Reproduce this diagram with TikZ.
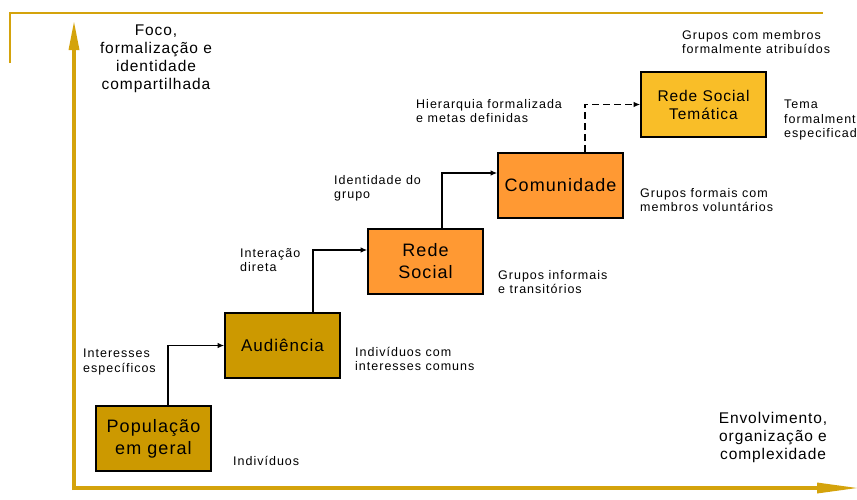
\documentclass[tikz,border=0pt]{standalone}
\usepackage{fontspec}
\setmainfont{Liberation Sans}[LetterSpace=6]
\usetikzlibrary{arrows.meta}
\definecolor{axisgold}{HTML}{D4A30C}
\definecolor{darkgold}{HTML}{CC9900}
\definecolor{orangebox}{HTML}{FF9933}
\definecolor{yellowbox}{HTML}{F9BE28}
\begin{document}
\begin{tikzpicture}[x=1pt,y=-1pt,
  box/.style={draw=black, line width=1.6pt, minimum width=115pt, minimum height=65pt,
    inner sep=0pt, align=center, font=\fontsize{18}{22}\selectfont},
  small/.style={anchor=north west, align=left, inner sep=0pt,
    font=\fontsize{12.5}{14.2}\selectfont\addfontfeatures{LetterSpace=8}},
  axislabel/.style={anchor=north, align=center, inner sep=0pt, font=\fontsize{15.5}{18}\selectfont},
  conn/.style={line width=1.2pt, -{Latex[length=6.5pt,width=5.5pt]}},
  axis/.style={draw=axisgold, line width=4.5pt},
  frame/.style={draw=axisgold, line width=1.5pt}]
\useasboundingbox (0,0) rectangle (857,499);
\clip (0,0) rectangle (857,499);

% frame
\draw[frame] (10,63) -- (10,13) -- (823,13);

% axes
\draw[axis] (74,490) -- (74,48);
\fill[axisgold] (68.5,50) -- (74,22) -- (79.5,50) -- cycle;
\draw[axis] (72,488) -- (819,488);
\fill[axisgold] (817,482.5) -- (857,488) -- (817,493.5) -- cycle;

% boxes
\node[box, fill=darkgold] (pop) at (153.5,438.5) {População\\em geral};
\node[box, fill=darkgold, font=\fontsize{17}{21}\selectfont] (aud) at (282.5,345.5) {Audiência};
\node[box, fill=orangebox] (rs) at (425.5,261.5) {Rede\\Social};
\node[box, fill=orangebox, minimum width=125pt] (com) at (560.5,185.5) {Comunidade};
\node[box, fill=yellowbox, minimum width=125pt, font=\fontsize{15.5}{18}\selectfont] (tem) at (703.5,104.5) {Rede Social\\Temática};

% connectors
\draw[conn] ([xshift=14.5pt]pop.north) |- (aud.west);
\draw[conn] ([xshift=30.5pt]aud.north) |- ([yshift=11.5pt]rs.west);
\draw[conn] ([xshift=16.5pt]rs.north) |- ([yshift=12.5pt]com.west);
\draw[conn, dash pattern=on 7pt off 4pt] ([xshift=24.5pt]com.north) |- (tem.west);

% labels
\node[axislabel] (ylab) at (156,25) {Foco,\\formalização e\\identidade\\compartilhada};
\node[axislabel] (xlab) at (773,412) {Envolvimento,\\organização e\\complexidade};

\node[small] (l1) at (682,30) {Grupos com membros\\formalmente atribuídos};
\node[small] (l2) at (416,99) {Hierarquia formalizada\\e metas definidas};
\node[small] (l3) at (784,100) {Tema\\formalmente\\especificado};
\node[small] (l4) at (334,175) {Identidade do\\grupo};
\node[small] (l5) at (640,188) {Grupos formais com\\membros voluntários};
\node[small] (l6) at (240,248) {Interação\\direta};
\node[small] (l7) at (498,270) {Grupos informais\\e transitórios};
\node[small] (l8) at (83,349) {Interesses\\específicos};
\node[small] (l9) at (355,347) {Indivíduos com\\interesses comuns};
\node[small] (l10) at (233,456) {Indivíduos};
\end{tikzpicture}
\end{document}
